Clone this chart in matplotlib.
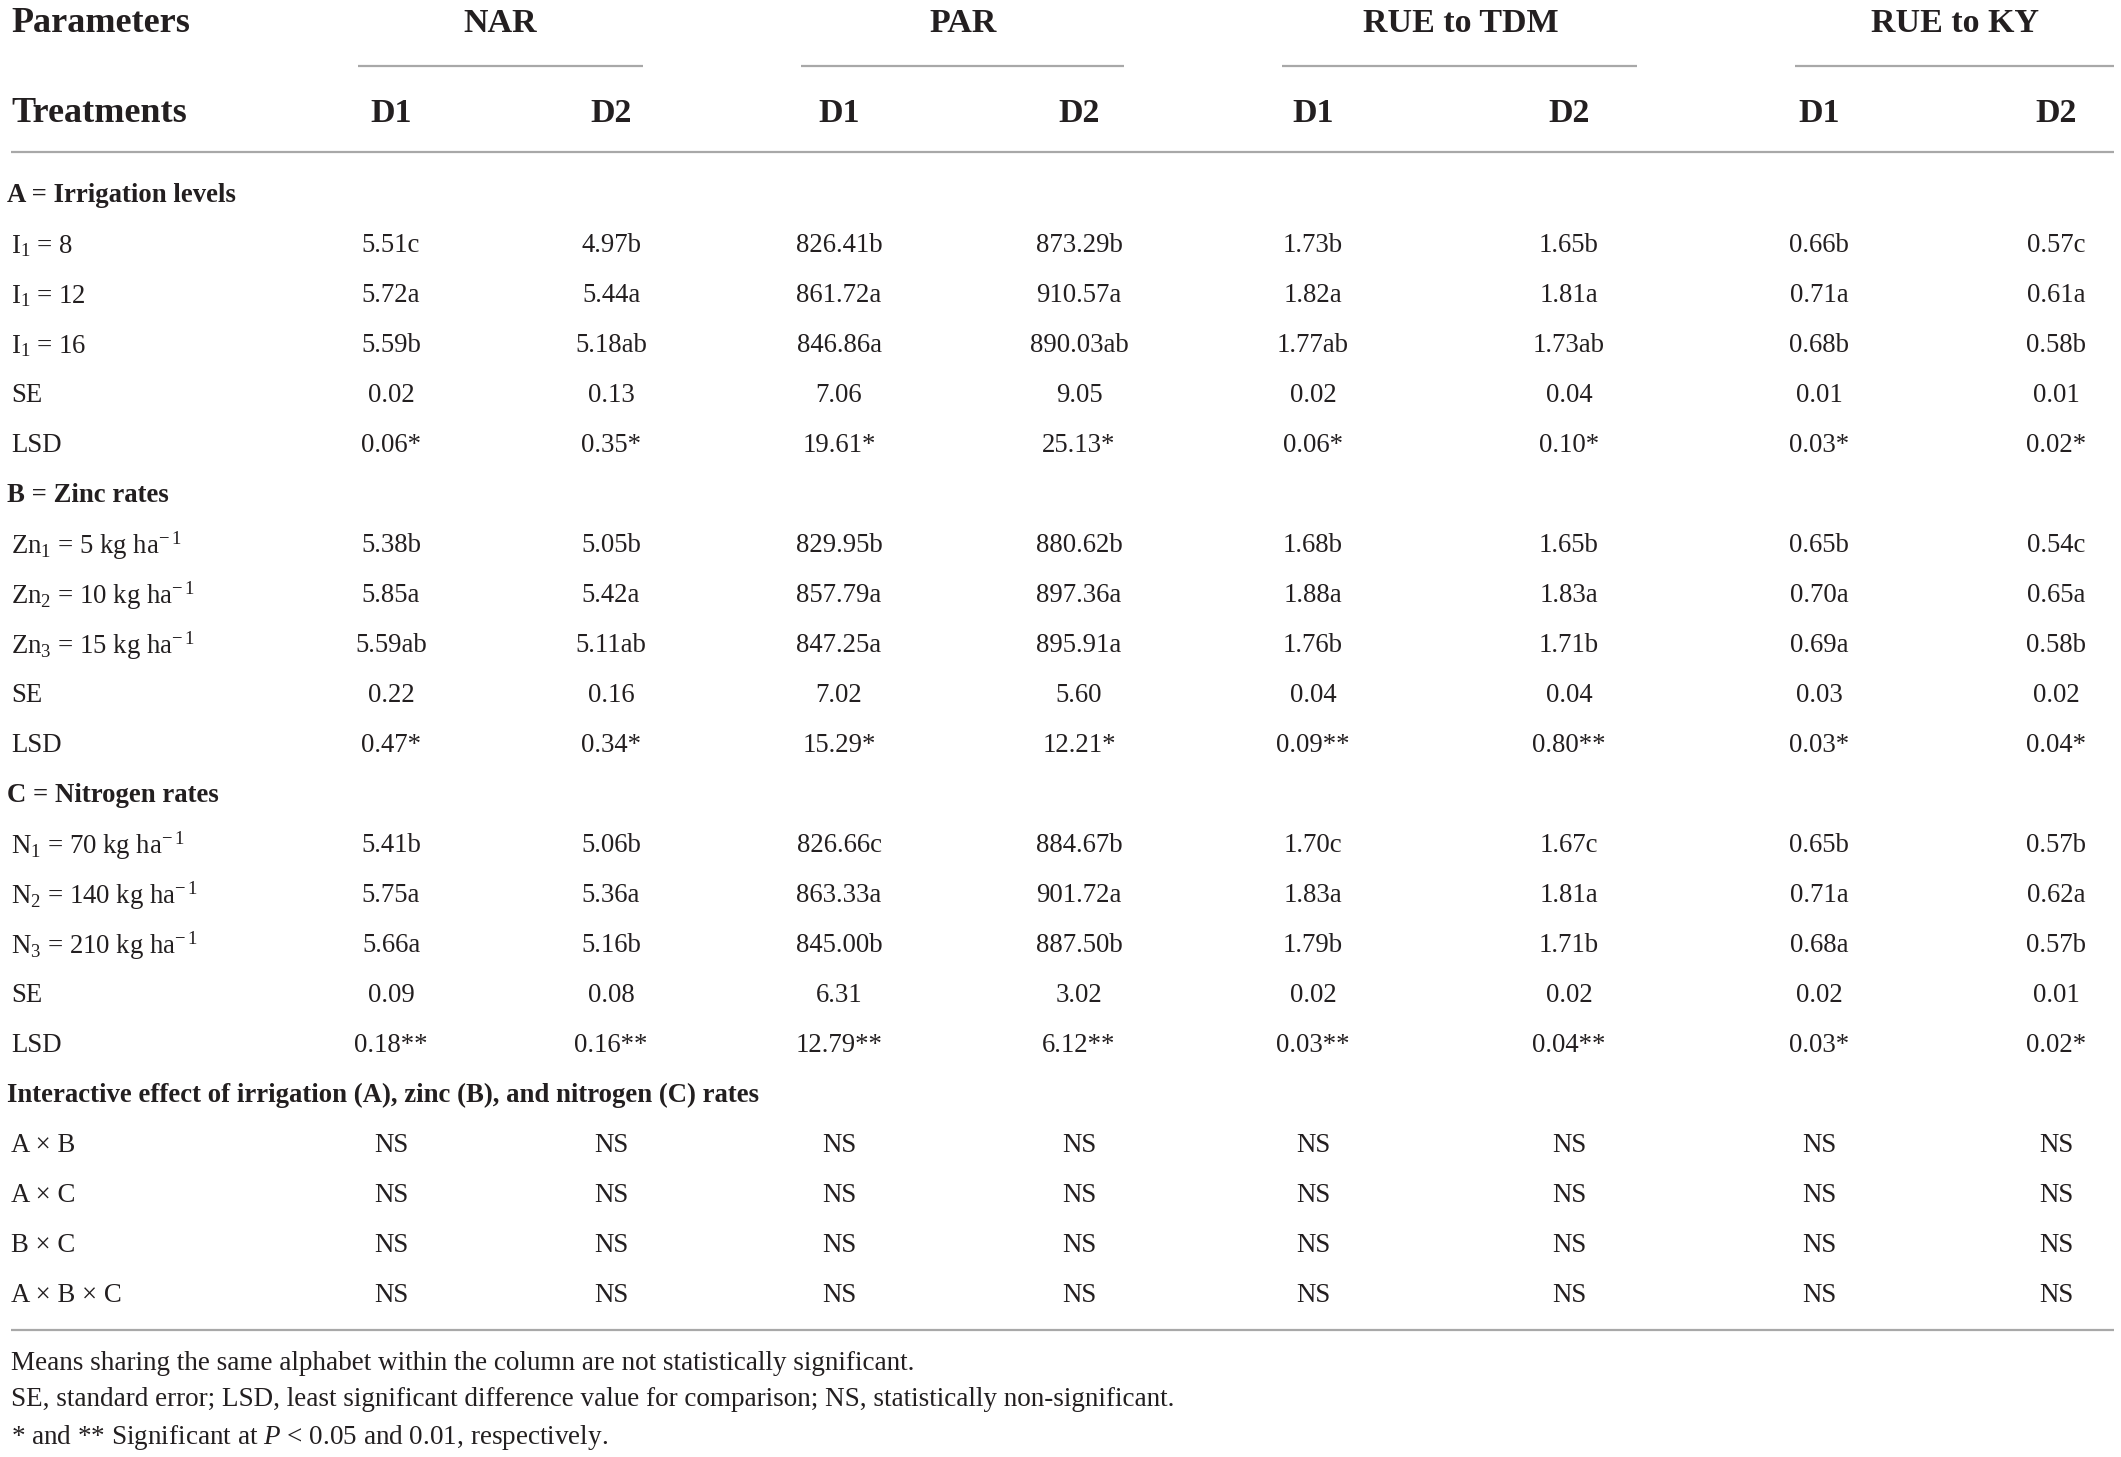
import matplotlib
matplotlib.use("Agg")
import matplotlib.pyplot as plt

plt.rcParams['font.family'] = ['Liberation Serif', 'DejaVu Serif']
plt.rcParams['mathtext.fontset'] = 'custom'
plt.rcParams['mathtext.rm'] = 'Liberation Serif'
plt.rcParams['mathtext.it'] = 'Liberation Serif:italic'
plt.rcParams['mathtext.bf'] = 'Liberation Serif:bold'

W, H = 2121, 1457
INK = '#231f20'
RULE = '#a8a8a8'

groups = ['NAR', 'PAR', 'RUE to TDM', 'RUE to KY']
subcols = ['D1', 'D2']

sections = ['A = Irrigation levels', 'B = Zinc rates', 'C = Nitrogen rates']
labels_a = ['I$_1$ = 8', 'I$_1$ = 12', 'I$_1$ = 16', 'SE', 'LSD']
labels_b = ['Zn$_1$ = 5 kg ha$^{-\\,1}$', 'Zn$_2$ = 10 kg ha$^{-\\,1}$',
            'Zn$_3$ = 15 kg ha$^{-\\,1}$', 'SE', 'LSD']
labels_c = ['N$_1$ = 70 kg ha$^{-\\,1}$', 'N$_2$ = 140 kg ha$^{-\\,1}$',
            'N$_3$ = 210 kg ha$^{-\\,1}$', 'SE', 'LSD']

# values: A rows, B rows, C rows (15 per column)
nar_d1 = ['5.51c', '5.72a', '5.59b', '0.02', '0.06*',
          '5.38b', '5.85a', '5.59ab', '0.22', '0.47*',
          '5.41b', '5.75a', '5.66a', '0.09', '0.18**']
nar_d2 = ['4.97b', '5.44a', '5.18ab', '0.13', '0.35*',
          '5.05b', '5.42a', '5.11ab', '0.16', '0.34*',
          '5.06b', '5.36a', '5.16b', '0.08', '0.16**']
par_d1 = ['826.41b', '861.72a', '846.86a', '7.06', '19.61*',
          '829.95b', '857.79a', '847.25a', '7.02', '15.29*',
          '826.66c', '863.33a', '845.00b', '6.31', '12.79**']
par_d2 = ['873.29b', '910.57a', '890.03ab', '9.05', '25.13*',
          '880.62b', '897.36a', '895.91a', '5.60', '12.21*',
          '884.67b', '901.72a', '887.50b', '3.02', '6.12**']
tdm_d1 = ['1.73b', '1.82a', '1.77ab', '0.02', '0.06*',
          '1.68b', '1.88a', '1.76b', '0.04', '0.09**',
          '1.70c', '1.83a', '1.79b', '0.02', '0.03**']
tdm_d2 = ['1.65b', '1.81a', '1.73ab', '0.04', '0.10*',
          '1.65b', '1.83a', '1.71b', '0.04', '0.80**',
          '1.67c', '1.81a', '1.71b', '0.02', '0.04**']
ky_d1 = ['0.66b', '0.71a', '0.68b', '0.01', '0.03*',
         '0.65b', '0.70a', '0.69a', '0.03', '0.03*',
         '0.65b', '0.71a', '0.68a', '0.02', '0.03*']
ky_d2 = ['0.57c', '0.61a', '0.58b', '0.01', '0.02*',
         '0.54c', '0.65a', '0.58b', '0.02', '0.04*',
         '0.57b', '0.62a', '0.57b', '0.01', '0.02*']

interaction_title = 'Interactive effect of irrigation (A), zinc (B), and nitrogen (C) rates'
interaction_rows = ['A × B', 'A × C', 'B × C', 'A × B × C']
interaction_val = 'NS'

notes = ['Means sharing the same alphabet within the column are not statistically significant.',
         'SE, standard error; LSD, least significant difference value for comparison; NS, statistically non-significant.',
         '* and ** Significant at $P$ < 0.05 and 0.01, respectively.']

columns = [nar_d1, nar_d2, par_d1, par_d2, tdm_d1, tdm_d2, ky_d1, ky_d2]

# layout (pixels)
col_x = [391, 611, 839, 1079, 1313, 1569, 1819, 2056]
group_x = [500, 963, 1461, 1955]
group_lines = [(358, 643), (801, 1124), (1282, 1637), (1795, 2114)]
x_left = 11
dy = 3
row0, row_h = 193 + dy, 49.98
body_fs, head_fs, note_fs = 19.3, 24.5, 19.5

fig = plt.figure(figsize=(W / 100, H / 100), dpi=100)
ax = fig.add_axes([0, 0, 1, 1])
ax.set_xlim(0, W)
ax.set_ylim(H, 0)
ax.axis('off')

# header
ax.text(x_left, 20 + dy, 'Parameters', fontsize=26, fontweight='bold', color=INK, va='center')
ax.text(x_left, 111 + dy, 'Treatments', fontsize=26, fontweight='bold', color=INK, va='center')
for g, gx, (l0, l1) in zip(groups, group_x, group_lines):
    ax.text(gx, 20 + dy, g, fontsize=head_fs, fontweight='bold', color=INK, ha='center', va='center')
    ax.plot([l0, l1], [66, 66], color=RULE, lw=1.6, solid_capstyle='butt')
for i, cx in enumerate(col_x):
    ax.text(cx, 111 + dy, subcols[i % 2], fontsize=head_fs, fontweight='bold', color=INK,
            ha='center', va='center')
ax.plot([x_left, 2114], [152, 152], color=RULE, lw=1.6, solid_capstyle='butt')

# body
r = 0
for s, (title, labels) in enumerate(zip(sections, [labels_a, labels_b, labels_c])):
    ax.text(7, row0 + r * row_h, title, fontsize=body_fs, fontweight='bold', color=INK, va='center')
    r += 1
    for k, lab in enumerate(labels):
        y = row0 + r * row_h
        ax.text(x_left, y, lab, fontsize=body_fs, color=INK, va='center')
        for cx, col in zip(col_x, columns):
            ax.text(cx, y, col[s * 5 + k], fontsize=body_fs, color=INK, ha='center', va='center')
        r += 1

ax.text(7, row0 + r * row_h, interaction_title, fontsize=body_fs, fontweight='bold',
        color=INK, va='center')
r += 1
for lab in interaction_rows:
    y = row0 + r * row_h
    ax.text(x_left, y, lab, fontsize=body_fs, color=INK, va='center')
    for cx in col_x:
        ax.text(cx, y, interaction_val, fontsize=body_fs, color=INK, ha='center', va='center')
    r += 1

ax.plot([x_left, 2114], [1330, 1330], color=RULE, lw=1.6, solid_capstyle='butt')

for y, note in zip([1361, 1397, 1435], notes):
    ax.text(x_left, y + dy, note, fontsize=note_fs, color=INK, va='center')

fig.savefig('out.png', dpi=100)
